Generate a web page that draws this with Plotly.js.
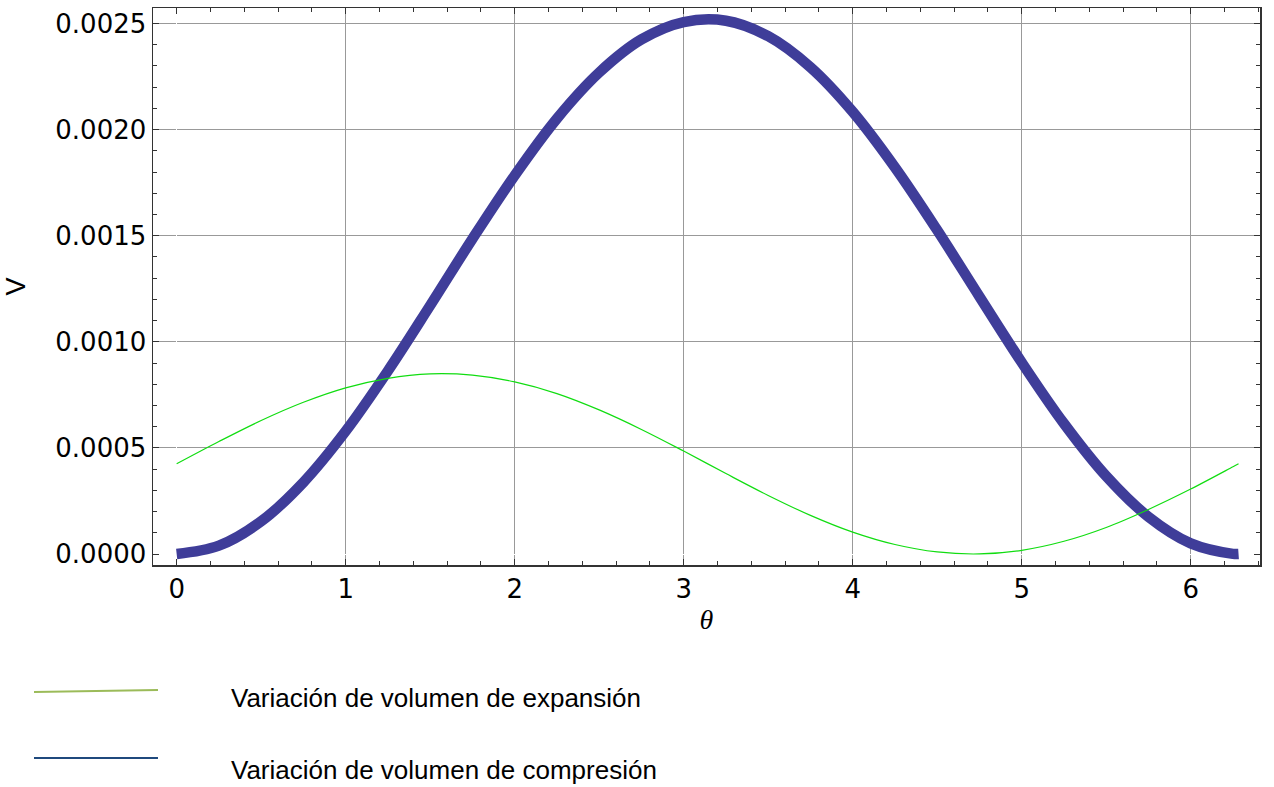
<!DOCTYPE html>
<html>
<head>
<meta charset="utf-8">
<script src="https://cdn.plot.ly/plotly-3.0.1.min.js"></script>
<style>html,body{margin:0;padding:0;background:#fff;}#chart{width:1274px;height:787px;}</style>
</head>
<body>
<div id="chart"></div>
<script>
// theta values (rad)
const theta = [0, 0.25, 0.5, 0.75, 1.0, 1.25, 1.5, 1.75, 2.0, 2.25, 2.5, 2.75, 3.0, 3.25, 3.5, 3.75, 4.0, 4.25, 4.5, 4.75, 5.0, 5.25, 5.5, 5.75, 6.0, 6.25, 6.283];
// Variación de volumen de expansión
const vExpansion = [0.000425, 0.000530, 0.000629, 0.000715, 0.000783, 0.000828, 0.000849, 0.000843, 0.000811, 0.000756, 0.000679, 0.000587, 0.000485, 0.000379, 0.000276, 0.000182, 0.000103, 0.0000446, 0.0000096, 0.0000003, 0.0000175, 0.0000600, 0.000125, 0.000210, 0.000306, 0.000411, 0.000425];
// Variación de volumen de compresión
const vCompresion = [0, 0.0000392, 0.000154, 0.000338, 0.000579, 0.000863, 0.001171, 0.001485, 0.001784, 0.002052, 0.002269, 0.002425, 0.002507, 0.002513, 0.002440, 0.002294, 0.002084, 0.001822, 0.001526, 0.001213, 0.000903, 0.000615, 0.000367, 0.000175, 0.0000501, 0.0000008, 0];
const xTicks = [0, 1, 2, 3, 4, 5, 6];
const yTicks = [0, 0.0005, 0.0010, 0.0015, 0.0020, 0.0025];
const yTickText = ["0.0000", "0.0005", "0.0010", "0.0015", "0.0020", "0.0025"];
const legendNames = ["Variación de volumen de expansión", "Variación de volumen de compresión"];

const tickFont = {family: "DejaVu Sans, Liberation Sans, Arial", size: 26, color: "#000"};

const traces = [
  {x: theta, y: vCompresion, mode: "lines", line: {color: "#3f3d99", width: 10.5, shape: "spline"}, showlegend: false, hoverinfo: "skip"},
  {x: theta, y: vExpansion, mode: "lines", line: {color: "#11dd11", width: 1.2, shape: "spline"}, showlegend: false, hoverinfo: "skip"}
];

const layout = {
  width: 1274, height: 787,
  margin: {l: 153, r: 14, t: 8, b: 222},
  paper_bgcolor: "#fff", plot_bgcolor: "#fff",
  showlegend: false,
  xaxis: {
    range: [-0.14, 6.41], tickvals: xTicks, ticktext: xTicks.map(String),
    showgrid: true, gridcolor: "#999", gridwidth: 1,
    zeroline: true, zerolinecolor: "#fff", zerolinewidth: 1,
    showline: true, linecolor: "#333", linewidth: 1.5, mirror: "ticks",
    ticks: "inside", ticklen: 6, tickcolor: "#333", tickwidth: 1,
    minor: {dtick: 0.2, tick0: 0, ticks: "inside", ticklen: 4, tickcolor: "#333", showgrid: false},
    tickfont: tickFont,
    title: {text: "θ", font: {family: "Liberation Serif, Times New Roman, serif", size: 28, color: "#000", style: "italic"}, standoff: 6}
  },
  yaxis: {
    range: [-0.0000518, 0.002573], tickvals: yTicks, ticktext: yTickText,
    showgrid: true, gridcolor: "#999", gridwidth: 1,
    zeroline: true, zerolinecolor: "#fff", zerolinewidth: 1,
    showline: true, linecolor: "#333", linewidth: 1.5, mirror: "ticks",
    ticks: "inside", ticklen: 6, tickcolor: "#333", tickwidth: 1,
    minor: {dtick: 0.0001, tick0: 0, ticks: "inside", ticklen: 4, tickcolor: "#333", showgrid: false},
    tickfont: tickFont,
    title: {text: "V", font: {family: "Liberation Sans, Arial", size: 27, color: "#000"}, standoff: 22}
  },
  shapes: [
    {type: "line", xref: "paper", yref: "paper", x0: -0.1075, x1: 0.0045, y0: -0.2280, y1: -0.2244, line: {color: "#9bbb59", width: 2}},
    {type: "line", xref: "paper", yref: "paper", x0: -0.1075, x1: 0.0045, y0: -0.3465, y1: -0.3465, line: {color: "#1f497d", width: 2}}
  ],
  annotations: [
    {xref: "paper", yref: "paper", x: 0.0687, y: -0.2388, xanchor: "left", yanchor: "middle", showarrow: false, text: legendNames[0], font: {family: "Liberation Sans, Arial", size: 26, color: "#000"}},
    {xref: "paper", yref: "paper", x: 0.0687, y: -0.368, xanchor: "left", yanchor: "middle", showarrow: false, text: legendNames[1], font: {family: "Liberation Sans, Arial", size: 26, color: "#000"}}
  ]
};

Plotly.newPlot("chart", traces, layout, {staticPlot: true, displayModeBar: false});
</script>
</body>
</html>
